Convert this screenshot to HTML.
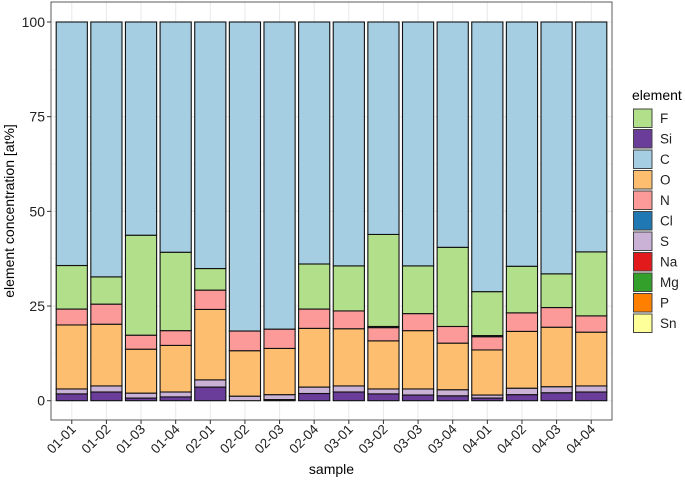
<!DOCTYPE html>
<html><head><meta charset="utf-8"><style>
body{margin:0;background:#fff;font-family:"Liberation Sans",sans-serif}
</style></head><body>
<svg id="chart" width="685" height="481" xmlns="http://www.w3.org/2000/svg" font-family="Liberation Sans, sans-serif">
<g id="grid"></g><g id="bars"></g><g id="axes"></g><g id="legend"></g>
</svg>
<script>
const categories=["01-01","01-02","01-03","01-04","02-01","02-02","02-03","02-04","03-01","03-02","03-03","03-04","04-01","04-02","04-03","04-04"];
const Si=[1.8,2.3,0.7,1.0,3.6,0,0.3,1.9,2.3,1.8,1.5,1.3,0.7,1.6,2.1,2.3];
const S=[1.3,1.6,1.3,1.3,1.9,1.2,1.3,1.7,1.6,1.3,1.6,1.6,0.8,1.7,1.6,1.6];
const O=[16.9,16.3,11.6,12.3,18.6,12.0,12.2,15.5,15.1,12.7,15.4,12.3,11.9,15.0,15.7,14.2];
const N=[4.2,5.3,3.7,3.9,5.1,5.2,5.1,5.1,4.7,3.5,4.5,4.4,3.5,4.9,5.2,4.3];
const Cl=[0,0,0,0,0,0,0,0,0,0.3,0,0,0.3,0,0,0];
const F=[11.5,7.2,26.4,20.7,5.7,0,0,11.9,11.9,24.3,12.6,20.9,11.6,12.3,8.9,16.9];
const C=[64.3,67.3,56.3,60.8,65.1,81.6,81.1,63.9,64.4,56.1,64.4,59.5,71.2,64.5,66.5,60.7];
const yTicks=[0,25,50,75,100];
const legendNames=["F","Si","C","O","N","Cl","S","Na","Mg","P","Sn"];
const legendColors=["#b2df8a","#6a3d9a","#a6cee3","#fdbf6f","#fb9a99","#1f78b4","#cab2d6","#e31a1c","#33a02c","#ff7f00","#ffff99"];
const NS="http://www.w3.org/2000/svg";
const L=51,R=612,T=2,B=420;
const y0=400.7,k=3.787;
function yS(v){return y0-v*k;}
const step=(R-L)/(categories.length-1+1.2);
function xS(i){return L+step*0.6+i*step;}
const bw=step*0.9;
function el(t,a,p){const e=document.createElementNS(NS,t);for(const q in a)e.setAttribute(q,a[q]);p.appendChild(e);return e;}
const grid=document.getElementById('grid'),bars=document.getElementById('bars'),axes=document.getElementById('axes'),leg=document.getElementById('legend');
const bg=el('rect',{x:L,y:T,width:R-L,height:B-T,fill:'#fff'},grid);


for(let v=12.5;v<100;v+=25){el('line',{x1:L,x2:R,y1:yS(v),y2:yS(v),stroke:'#f3f3f3','stroke-width':0.6},grid);}
yTicks.forEach(v=>{el('line',{x1:L,x2:R,y1:yS(v),y2:yS(v),stroke:'#ebebeb','stroke-width':1.1},grid);});
categories.forEach((c,i)=>{el('line',{x1:xS(i),x2:xS(i),y1:T,y2:B,stroke:'#ebebeb','stroke-width':1.1},grid);});
const series=[["Si",Si,"#6a3d9a"],["S",S,"#cab2d6"],["O",O,"#fdbf6f"],["N",N,"#fb9a99"],["Cl",Cl,"#1f78b4"],["F",F,"#b2df8a"],["C",C,"#a6cee3"]];
categories.forEach((c,i)=>{
  let cum=0;
  series.forEach(s=>{
    const v=s[1][i]; if(v<=0) return;
    const r=el('rect',{x:xS(i)-bw/2,y:yS(cum+v),width:bw,height:v*k,fill:s[2],stroke:'#111','stroke-width':1.1},bars);
    
    
    cum+=v;
  });
});
const border=el('rect',{x:L,y:T,width:R-L,height:B-T,fill:'none',stroke:'#333','stroke-width':0.8},axes);


yTicks.forEach(v=>{
  el('line',{x1:L-4,x2:L,y1:yS(v),y2:yS(v),stroke:'#333'},axes);
  const t=el('text',{x:L-6,y:yS(v)+5,'text-anchor':'end','font-size':14,fill:'#222'},axes);
  t.textContent=v;
  
  
});
categories.forEach((c,i)=>{
  el('line',{x1:xS(i),x2:xS(i),y1:B,y2:B+4,stroke:'#333'},axes);
  const t=el('text',{x:xS(i)+5,y:B+10,'text-anchor':'end','font-size':13.5,fill:'#222',transform:`rotate(-45 ${xS(i)+5} ${B+10})`},axes);
  t.textContent=c;
  
  
});
const xt=el('text',{x:(L+R)/2,y:474,'text-anchor':'middle','font-size':14,fill:'#000'},axes);
xt.textContent='sample';


const yt=el('text',{x:14,y:(T+B)/2,'text-anchor':'middle','font-size':14,fill:'#000',transform:`rotate(-90 14 ${(T+B)/2})`},axes);
yt.textContent='element concentration [at%]';


const lt=el('text',{x:632,y:100,'font-size':14,fill:'#000'},leg);
lt.textContent='element';


legendNames.forEach((n,i)=>{
  const y=109+i*20.5;
  const r=el('rect',{x:633.5,y:y,width:18.5,height:18.5,fill:legendColors[i],stroke:'#444','stroke-width':1},leg);
  
  
  const t=el('text',{x:660,y:y+14,'font-size':13.5,fill:'#222'},leg);
  t.textContent=n;
  
  
});
</script>
</body></html>
